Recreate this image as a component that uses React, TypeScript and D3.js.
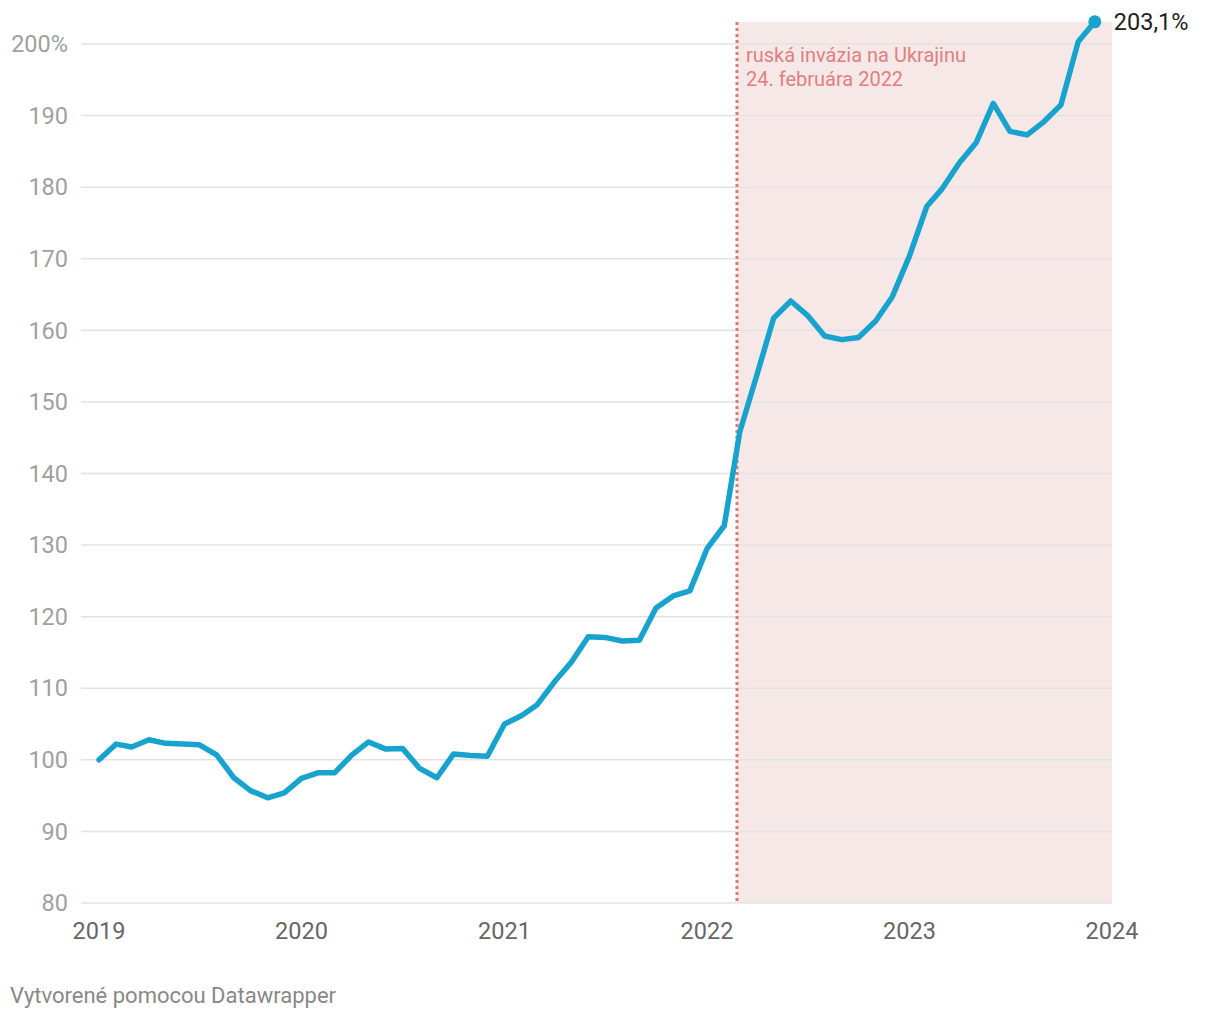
import * as d3 from "d3";

// monthly index, Jan 2019 = 100
const values = [
  100.0, 102.2, 101.8, 102.8, 102.3, 102.2, 102.1, 100.7, 97.5, 95.7, 94.7, 95.4,
  97.4, 98.2, 98.2, 100.7, 102.5, 101.5, 101.6, 98.8, 97.5, 100.8, 100.6, 100.5,
  105.0, 106.2, 107.7, 110.9, 113.6, 117.2, 117.1, 116.6, 116.7, 121.2, 122.9, 123.6,
  129.5, 132.7, 145.8, 153.8, 161.7, 164.1, 162.1, 159.2, 158.7, 159.0, 161.3, 164.7,
  170.4, 177.3, 179.8, 183.4, 186.2, 191.7, 187.8, 187.3, 189.2, 191.5, 200.3, 203.1,
];
const months = values.map((_, i) => new Date(2019, i, 1));
const yTicks = [80, 90, 100, 110, 120, 130, 140, 150, 160, 170, 180, 190, 200];
const xTickYears = [2019, 2020, 2021, 2022, 2023, 2024];
const invasionDate = new Date(2022, 1, 24);
const annotationLines = ["ruská invázia na Ukrajinu", "24. februára 2022"];
const lastLabel = "203,1%";
const footer = "Vytvorené pomocou Datawrapper";

const W = 1220;
const H = 1020;
const marginLeft = 99;
const marginRight = 108;
const marginTop = 22;
const plotBottom = 903;

export default function App() {
  const x = d3.scaleTime([new Date(2019, 0, 1), new Date(2024, 0, 1)], [marginLeft, W - marginRight]);
  const y = d3.scaleLinear([80, 200], [plotBottom, 44]);
  const line = d3.line<number>((_, i) => x(months[i]), (d) => y(d));
  const xInv = x(invasionDate);
  const last = values.length - 1;

  return (
    <svg
      width={W}
      height={H}
      style={{ position: "absolute", left: 0, top: 0, fontFamily: "Roboto, sans-serif" }}
    >
      <rect x={xInv} y={marginTop} width={W - marginRight - xInv} height={plotBottom - marginTop} fill="#f7e8e8" />
      <g>
        {yTicks.map((t) => (
          <g key={t}>
            <line x1={81} x2={W - marginRight} y1={y(t)} y2={y(t)} stroke="#e3e3e3" strokeWidth={1.5} />
            <text x={68} y={y(t)} dy="0.35em" textAnchor="end" fontSize={23.5} fill="#a0a0a0">
              {t === 200 ? "200%" : t}
            </text>
          </g>
        ))}
      </g>
      <g>
        {xTickYears.map((yr) => (
          <text key={yr} x={x(new Date(yr, 0, 1))} y={939} textAnchor="middle" fontSize={23.5} fill="#666">
            {yr}
          </text>
        ))}
      </g>
      <line x1={xInv} x2={xInv} y1={marginTop} y2={plotBottom} stroke="#e07878" strokeWidth={3} strokeDasharray="3,3" />
      {annotationLines.map((s, i) => (
        <text key={i} x={xInv + 9} y={62 + i * 24} fontSize={20} fill="#e07f7f">
          {s}
        </text>
      ))}
      <path d={line(values) ?? ""} fill="none" stroke="#18a3cf" strokeWidth={5.5} strokeLinejoin="round" strokeLinecap="round" />
      <circle cx={x(months[last])} cy={y(values[last])} r={6.5} fill="#18a3cf" />
      <text x={x(months[last]) + 19} y={y(values[last])} dy="0.35em" fontSize={23.5} fill="#222">
        {lastLabel}
      </text>
      <text x={10} y={1003} fontSize={22} fill="#888">
        {footer}
      </text>
    </svg>
  );
}
